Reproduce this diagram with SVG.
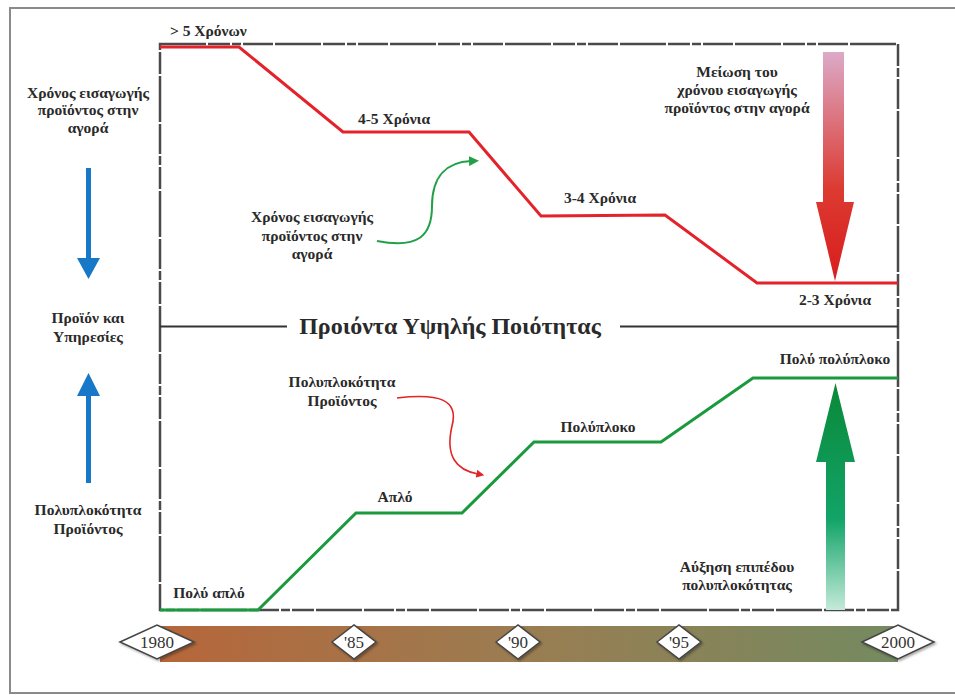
<svg xmlns="http://www.w3.org/2000/svg" width="955" height="695" viewBox="0 0 955 695">
  <style>
    .lbl { font-family: "Liberation Serif", "DejaVu Serif", serif; font-weight: bold; font-size: 15.5px; fill: #2a2a2a; }
    .mid { text-anchor: middle; }
    .title { font-family: "Liberation Serif", "DejaVu Serif", serif; font-weight: bold; font-size: 24px; fill: #2a2a2a; text-anchor: middle; }
    .year { font-family: "Liberation Serif", "DejaVu Serif", serif; font-size: 17px; fill: #333; text-anchor: middle; }
    .frame { fill: none; stroke: #8a8a8a; stroke-width: 2; }
    .chart { fill: none; stroke: #4a4a4a; stroke-width: 2.5; stroke-dasharray: 46 2 22 2 9 2 30 2; }
    .divider { stroke: #333; stroke-width: 2; }
    .series-red { fill: none; stroke: #e4222a; stroke-width: 3; stroke-linejoin: miter; }
    .series-green { fill: none; stroke: #1a9a3c; stroke-width: 3; stroke-linejoin: miter; }
    .diamond { fill: #fff; stroke: #444; stroke-width: 1.5; filter: url(#shadow); }
    .blue { fill: #1878c8; }
  </style>
  <defs>
    <linearGradient id="barGrad" x1="0" y1="0" x2="1" y2="0">
      <stop offset="0" stop-color="#b6663a"/>
      <stop offset="0.5" stop-color="#9a7d52"/>
      <stop offset="1" stop-color="#748a60"/>
    </linearGradient>
    <linearGradient id="redArrowGrad" gradientUnits="userSpaceOnUse" x1="0" y1="52" x2="0" y2="281">
      <stop offset="0" stop-color="#dcaac8"/>
      <stop offset="0.6" stop-color="#dc3a30"/>
      <stop offset="1" stop-color="#d81e1e"/>
    </linearGradient>
    <linearGradient id="greenArrowGrad" gradientUnits="userSpaceOnUse" x1="0" y1="383" x2="0" y2="610">
      <stop offset="0" stop-color="#0a8838"/>
      <stop offset="0.6" stop-color="#12a468"/>
      <stop offset="1" stop-color="#c4eada"/>
    </linearGradient>
    <marker id="headGreen" viewBox="0 0 10 10" refX="2" refY="5" markerWidth="5" markerHeight="5" orient="auto">
      <path d="M0,0 L10,5 L0,10 z" fill="#22a048"/>
    </marker>
    <marker id="headRed" viewBox="0 0 10 10" refX="2" refY="5" markerWidth="5" markerHeight="5" orient="auto">
      <path d="M0,0 L10,5 L0,10 z" fill="#e02626"/>
    </marker>
    <filter id="shadow" x="-20%" y="-20%" width="150%" height="150%">
      <feDropShadow dx="1.5" dy="1.5" stdDeviation="1" flood-color="#000" flood-opacity="0.35"/>
    </filter>
  </defs>

  <rect width="955" height="695" fill="#fff"/>

  <!-- outer frame -->
  <rect class="frame" x="10" y="8" width="960" height="685"/>

  <!-- chart area -->
  <g id="chart-area">
    <rect class="chart" x="160" y="44" width="738" height="566"/>
    <line class="divider" x1="160" y1="326.5" x2="287" y2="326.5"/>
    <line class="divider" x1="620" y1="326.5" x2="898" y2="326.5"/>
    <text class="title" x="450" y="334">Προιόντα Υψηλής Ποιότητας</text>
  </g>

  <!-- time to market (red) and complexity (green) -->
  <g id="series">
    <polyline class="series-red" points="160,47 239,47 343,132 469,132 541,216 665,215 757,283 898,283"/>
    <polyline class="series-green" points="160,610 258,610 356,513 462,513 534,442 661,442 753,378 898,378"/>
  </g>

  <!-- level labels -->
  <g id="labels-red">
    <text class="lbl" x="170" y="36">&gt; 5 Χρόνων</text>
    <text class="lbl mid" x="394" y="124">4-5 Χρόνια</text>
    <text class="lbl mid" x="600" y="203">3-4 Χρόνια</text>
    <text class="lbl mid" x="835" y="305">2-3 Χρόνια</text>
  </g>
  <g id="labels-green">
    <text class="lbl mid" x="209" y="598">Πολύ απλό</text>
    <text class="lbl mid" x="395" y="502">Απλό</text>
    <text class="lbl mid" x="598" y="432">Πολύπλοκο</text>
    <text class="lbl mid" x="835" y="364">Πολύ πολύπλοκο</text>
  </g>

  <!-- left side legend -->
  <g id="legend-time">
    <text class="lbl mid" x="88" y="98">Χρόνος εισαγωγής</text>
    <text class="lbl mid" x="88" y="115">προϊόντος στην</text>
    <text class="lbl mid" x="88" y="133">αγορά</text>
  </g>
  <g id="legend-products">
    <text class="lbl mid" x="88" y="323">Προϊόν και</text>
    <text class="lbl mid" x="88" y="342">Υπηρεσίες</text>
  </g>
  <g id="legend-complexity">
    <text class="lbl mid" x="88" y="515">Πολυπλοκότητα</text>
    <text class="lbl mid" x="88" y="534">Προϊόντος</text>
  </g>

  <!-- in-chart notes -->
  <g id="note-time">
    <text class="lbl mid" x="312" y="222">Χρόνος εισαγωγής</text>
    <text class="lbl mid" x="312" y="241">προϊόντος στην</text>
    <text class="lbl mid" x="312" y="259">αγορά</text>
  </g>
  <g id="note-complexity">
    <text class="lbl mid" x="342" y="387">Πολυπλοκότητα</text>
    <text class="lbl mid" x="342" y="406">Προϊόντος</text>
  </g>
  <g id="note-reduction">
    <text class="lbl mid" x="737" y="77">Μείωση του</text>
    <text class="lbl mid" x="737" y="95">χρόνου εισαγωγής</text>
    <text class="lbl mid" x="737" y="113">προϊόντος στην αγορά</text>
  </g>
  <g id="note-increase">
    <text class="lbl mid" x="737" y="572">Αύξηση επιπέδου</text>
    <text class="lbl mid" x="737" y="590">πολυπλοκότητας</text>
  </g>

  <!-- arrows -->
  <g id="connectors">
    <rect class="blue" x="86" y="168" width="5" height="92"/>
    <polygon class="blue" points="77,258 100,258 88.5,279"/>
    <rect class="blue" x="86" y="394" width="5" height="89"/>
    <polygon class="blue" points="77,396 100,396 88.5,373"/>

    <path d="M377,241 C418,249 432,236 432,206 C432,176 447,162 471,161" fill="none" stroke="#22a048" stroke-width="2" marker-end="url(#headGreen)"/>
    <path d="M397,398 C440,393 459,400 452,426 C445,456 456,470 478,474" fill="none" stroke="#e02626" stroke-width="1.6" marker-end="url(#headRed)"/>

    <path d="M823,52 H844 V202 H854 L835,281 L816,202 H823 Z" fill="url(#redArrowGrad)"/>
    <path d="M835.5,383 L855,462 H845 V610 H826 V462 H816 Z" fill="url(#greenArrowGrad)"/>
  </g>

  <!-- timeline -->
  <g id="timeline">
    <rect x="160" y="626" width="738" height="36" fill="url(#barGrad)"/>
  </g>
  <g id="year-1980">
    <polygon class="diamond" points="120,642 157,625 194,642 157,659"/>
    <text class="year" x="157" y="648">1980</text>
  </g>
  <g id="year-85">
    <polygon class="diamond" points="332,642 354,625 376,642 354,659"/>
    <text class="year" x="354" y="648">'85</text>
  </g>
  <g id="year-90">
    <polygon class="diamond" points="496,642 518,625 540,642 518,659"/>
    <text class="year" x="518" y="648">'90</text>
  </g>
  <g id="year-95">
    <polygon class="diamond" points="657,642 679,625 701,642 679,659"/>
    <text class="year" x="679" y="648">'95</text>
  </g>
  <g id="year-2000">
    <polygon class="diamond" points="862,642 898,625 934,642 898,659"/>
    <text class="year" x="898" y="648">2000</text>
  </g>
</svg>
